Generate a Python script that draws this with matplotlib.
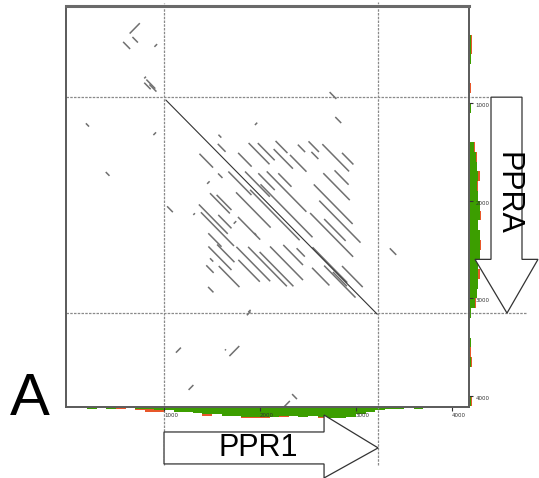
import numpy as np
import matplotlib.pyplot as plt
from matplotlib.collections import LineCollection
from matplotlib.patches import Polygon
from matplotlib.transforms import blended_transform_factory

# self-alignment of the gene pair (x = PPR1 side, y = PPRA side), positions in nt
diag_x = [1020, 3220]
diag_y = [970, 3160]

# direct repeat hits: start x, start y, length
fwd_x = [1567, 1369, 1560, 1772, 1881, 1977, 2162, 2142, 2312, 2394, 2505, 2535, 2649, 2854,
         1563, 1670, 1844, 1982, 2070, 2190, 2659, 2560, 2776, 1479, 1548, 1750, 1897, 2005,
         1363, 1384, 1565, 1770, 2522, 2617, 2668, 1461, 1462, 1553, 1479, 1440, 1570, 1754,
         1774, 1876, 1996, 2104, 2242, 2381, 2542, 2547, 2668, 2759, 2854, 1459,
         671, 574, 816, 794, 848, 2725, 186, 393, 1032, 2784, 3352, 2334, 1635, 1940]
fwd_y = [1324, 1519, 1418, 1510, 1409, 1410, 1388, 1471, 1531, 1426, 1392, 1500, 1421, 1510,
         1721, 1701, 1701, 1719, 1700, 1719, 1718, 1833, 1689, 1923, 1940, 1914, 1888, 1832,
         2038, 2118, 2145, 2166, 2126, 1999, 2187, 2333, 2468, 2448, 2589, 2661, 2668, 2472,
         2605, 2472, 2524, 2468, 2452, 2486, 2686, 2476, 2664, 2729, 2668, 2882,
         324, 374, 760, 792, 810, 888, 1208, 1706, 2057, 1143, 2487, 3979, 3521, 2330]
fwd_len = [30, 142, 81, 141, 218, 176, 124, 201, 172, 76, 109, 73, 279, 119,
           46, 241, 258, 172, 413, 138, 276, 405, 147, 207, 155, 361, 516, 542,
           301, 345, 138, 232, 448, 430, 224, 138, 241, 181, 34, 77, 216, 352,
           224, 404, 352, 344, 206, 86, 181, 362, 327, 146, 216, 56,
           57, 73, 93, 67, 73, 70, 33, 39, 60, 62, 67, 51, 10, 20]

# inverted hits: start x, start y, length (running up-right)
rev_x = [642, 900, 794, 889, 1947, 1449, 1305, 1726, 1878, 1863, 1124, 1681, 1256, 2251]
rev_y = [289, 425, 748, 1328, 1225, 1827, 2145, 2235, 3141, 3172, 3555, 3590, 3936, 4109]
rev_len = [106, 28, 18, 28, 24, 26, 17, 26, 24, 38, 52, 103, 50, 60]

# gene spans (nt)
ppr1_span = (1000, 3230)
ppra_span = (940, 3150)

# similarity profile, 100 nt bins
bins = np.arange(0, 4200, 100)
bottom_green = [0, 0, 1, 0, 1, 0, 0, 1, 1, 2, 2, 3, 3, 4, 5, 5, 6, 6, 7, 7, 7,
                7, 6, 6, 7, 6, 7, 8, 8, 7, 5, 3, 2, 1, 1, 0, 1, 0, 0, 0, 0, 0]
bottom_red = [0, 0, 1, 0, 1, 1, 0, 2, 3, 3, 2, 3, 3, 4, 6, 5, 6, 6, 8, 8, 8,
              7, 7, 6, 7, 6, 8, 8, 8, 7, 5, 3, 2, 1, 1, 0, 1, 0, 0, 0, 0, 0]
right_green = [0, 0, 0, 1, 1, 1, 0, 0, 0, 0, 1, 0, 0, 0, 3, 5, 6, 7, 6, 7, 8,
               8, 7, 8, 8, 8, 7, 7, 7, 6, 4, 1, 0, 0, 1, 0, 1, 0, 0, 0, 1, 0]
right_red = [0, 0, 0, 2, 2, 1, 0, 0, 1, 0, 1, 0, 0, 0, 4, 6, 6, 8, 7, 7, 8,
             9, 7, 8, 9, 8, 7, 8, 7, 6, 5, 1, 0, 0, 1, 1, 2, 0, 0, 0, 2, 0]

ticks = [1000, 2000, 3000, 4000]

W, H = 539, 478
fig = plt.figure(figsize=(W / 100, H / 100), dpi=100)

ax = fig.add_axes([66 / W, 1 - 407 / H, 403 / W, 401 / H])
ax.set_zorder(3)
ax.set_xlim(-21, 4177)
ax.set_ylim(4111, 7)

segs = [[(x, y), (x + n, y + n)] for x, y, n in zip(fwd_x, fwd_y, fwd_len)]
segs += [[(x, y), (x + n, y - n)] for x, y, n in zip(rev_x, rev_y, rev_len)]
ax.add_collection(LineCollection(segs, colors='#707070', linewidths=1.1))
ax.plot(diag_x, diag_y, color='#333333', lw=0.8)

for s in ax.spines.values():
    s.set_color('#5a5a5a')
    s.set_linewidth(1.4)
ax.spines['top'].set_linewidth(2.2)
ax.spines['top'].set_color('#6a6a6a')

ax.set_xticks(ticks)
ax.set_xticklabels([str(t) for t in ticks])
ax.yaxis.tick_right()
ax.set_yticks(ticks)
ax.set_yticklabels([str(t) for t in ticks])
ax.tick_params(direction='out', length=3, width=0.8, colors='#333333', labelsize=4, pad=1.5)
for lab in ax.get_xticklabels():
    lab.set_ha('left')
for lab in ax.get_yticklabels():
    lab.set_va('top')

dash = dict(color='#8a8a8a', lw=0.9, ls=(0, (2, 1)), clip_on=False, zorder=1)
ax.axvline(ppr1_span[0], ymin=-0.145, ymax=1.0075, **dash)
ax.axvline(ppr1_span[1], ymin=-0.145, ymax=1.01, **dash)
ax.axhline(ppra_span[0], xmin=0, xmax=1.052, **dash)
ax.axhline(ppra_span[1], xmin=0, xmax=1.141, **dash)

# similarity histograms
axb = fig.add_axes([66 / W, 1 - 419 / H, 403 / W, 12 / H])
axb.bar(bins, bottom_red, width=100, align='edge', color='#e8572a', lw=0)
axb.bar(bins, bottom_green, width=100, align='edge', color='#3c9e00', lw=0)
axb.set_xlim(ax.get_xlim())
axb.set_ylim(8.5, -0.6)
axb.axis('off')

axr = fig.add_axes([469 / W, 1 - 407 / H, 12 / W, 401 / H])
axr.barh(bins, right_red, height=100, align='edge', color='#e8572a', lw=0)
axr.barh(bins, right_green, height=100, align='edge', color='#3c9e00', lw=0)
axr.set_ylim(ax.get_ylim())
axr.set_xlim(-0.6, 9)
axr.axis('off')

# gene arrows
tx = blended_transform_factory(ax.transData, ax.transAxes)
head1 = ppr1_span[1] - 563
arrow1 = Polygon([(ppr1_span[0], -0.0623), (head1, -0.0623), (head1, -0.020),
                  (ppr1_span[1], -0.102), (head1, -0.177), (head1, -0.142),
                  (ppr1_span[0], -0.142)], closed=True, transform=tx,
                 facecolor='white', edgecolor='#333333', lw=0.9, clip_on=False, zorder=4)
ax.add_patch(arrow1)
ax.text(1985, -0.102, 'PPR1', transform=tx, ha='center', va='center',
        fontsize=22, family='Liberation Sans', zorder=5, clip_on=False)

ty = blended_transform_factory(ax.transAxes, ax.transData)
head2 = ppra_span[1] - 550
arrow2 = Polygon([(1.0546, ppra_span[0]), (1.1315, ppra_span[0]), (1.1315, head2),
                  (1.1712, head2), (1.0943, ppra_span[1]), (1.0149, head2),
                  (1.0546, head2)], closed=True, transform=ty,
                 facecolor='white', edgecolor='#333333', lw=0.9, clip_on=False, zorder=4)
ax.add_patch(arrow2)
ax.text(1.0943, 1930, 'PPRA', transform=ty, ha='center', va='center', rotation=-90,
        fontsize=22, family='Liberation Sans', zorder=5, clip_on=False)

fig.text(10 / W, 1 - 415 / H, 'A', fontsize=43, family='Liberation Sans',
         ha='left', va='baseline')

plt.savefig('out.png', dpi=100)
plt.close()
